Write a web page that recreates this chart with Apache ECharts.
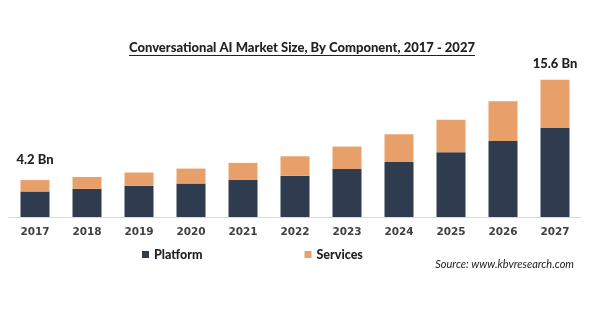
<!DOCTYPE html>
<html>
<head>
<meta charset="utf-8">
<script src="https://cdn.jsdelivr.net/npm/echarts@6/dist/echarts.min.js"></script>
<style>
  html, body { margin: 0; padding: 0; background: #fff; }
  #chart { width: 590px; height: 309px; }
</style>
</head>
<body>
<div id="chart"></div>
<script>
// 数据
var years = ['2017', '2018', '2019', '2020', '2021', '2022', '2023', '2024', '2025', '2026', '2027'];
var platform = [2.9, 3.2, 3.55, 3.8, 4.2, 4.7, 5.45, 6.25, 7.35, 8.65, 10.1];
var services = [1.3, 1.35, 1.5, 1.7, 1.95, 2.2, 2.55, 3.15, 3.7, 4.5, 5.5];
var totalLabels = ['4.2 Bn', '', '', '', '', '', '', '', '', '', '15.6 Bn'];

var titleText = 'Conversational AI Market Size, By Component, 2017 - 2027';
var titleFont = '900 13px Lato';

// 测量标题宽度，用来画下划线
var ctx = document.createElement('canvas').getContext('2d');
ctx.font = titleFont;
var titleW = ctx.measureText(titleText).width;
var titleCx = 302;

var chart = echarts.init(document.getElementById('chart'));

// 只在首尾柱子上显示总量
var servicesData = services.map(function (v, i) {
  if (!totalLabels[i]) return v;
  return {
    value: v,
    label: {
      show: true,
      position: 'top',
      distance: i === 0 ? 14 : 9,
      formatter: totalLabels[i]
    }
  };
});

var option = {
  animation: false,
  backgroundColor: '#fff',
  grid: { left: 9, right: 9, top: 41, bottom: 92 },
  legend: {
    left: 137,
    top: 243,
    itemWidth: 7,
    itemHeight: 7,
    itemGap: 102,
    icon: 'rect',
    textStyle: { fontFamily: 'Lato', fontWeight: 900, fontSize: 12.5, color: '#222' },
    data: ['Platform', 'Services']
  },
  xAxis: {
    type: 'category',
    data: years,
    axisLine: { lineStyle: { color: '#d9d9d9', width: 1 } },
    axisTick: { show: false },
    axisLabel: {
      margin: 10,
      fontFamily: 'DejaVu Sans',
      fontWeight: 'bold',
      fontSize: 10.5,
      color: '#404040'
    }
  },
  yAxis: {
    type: 'value',
    min: 0,
    max: 20,
    show: false,
    splitLine: { show: false }
  },
  series: [
    {
      name: 'Platform',
      type: 'bar',
      stack: 'total',
      barWidth: 29,
      itemStyle: { color: '#2f3b4e' },
      data: platform
    },
    {
      name: 'Services',
      type: 'bar',
      stack: 'total',
      barWidth: 29,
      itemStyle: { color: '#e8a06b' },
      label: {
        show: false,
        fontFamily: 'Lato',
        fontWeight: 900,
        fontSize: 13,
        color: '#222'
      },
      data: servicesData
    }
  ],
  graphic: [
    {
      type: 'text',
      x: titleCx,
      y: 48,
      style: {
        text: titleText,
        font: titleFont,
        fill: '#222',
        align: 'center',
        verticalAlign: 'middle'
      }
    },
    {
      type: 'line',
      shape: { x1: titleCx - titleW / 2, y1: 55.5, x2: titleCx + titleW / 2, y2: 55.5 },
      style: { stroke: '#222', lineWidth: 1 }
    },
    {
      type: 'text',
      x: 574,
      y: 264,
      style: {
        text: 'Source: www.kbvresearch.com',
        font: 'italic 11px Lato',
        fill: '#222',
        align: 'right',
        verticalAlign: 'middle'
      }
    }
  ]
};

chart.setOption(option);
</script>
</body>
</html>
